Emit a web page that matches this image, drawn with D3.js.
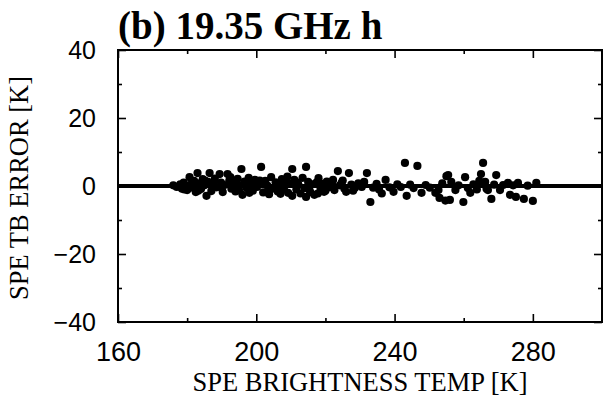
<!DOCTYPE html>
<html>
<head>
<meta charset="utf-8">
<script src="https://cdn.jsdelivr.net/npm/d3@7"></script>
<style>
  body { margin: 0; background: #fff; }
  svg { display: block; }
</style>
</head>
<body>
<div id="chart"></div>
<script>
// data: SPE brightness temperature [K] vs TB error [K]
var speTemp = [
  176, 177, 178, 178.5, 179, 179.5, 180, 180.7, 181, 181.5,
  182, 182.5, 183, 183.5, 184, 184.5, 185, 185.6, 186, 186.5,
  187, 187.5, 188, 188.5, 189.4, 189.8, 190.3, 190.8, 191.7, 192.2,
  192.8, 193.5, 194, 194.6, 195.2, 195.7, 196, 196.6, 197.2, 197.8,
  198.4, 199, 199.6, 200.2, 200.8, 201.4, 202, 202.6, 203.2, 203.7,
  204.3, 205, 205.6, 206.2, 206.8, 207.4, 208, 208.6, 209.2, 209.8,
  210.4, 210.4, 211, 211.6, 212.2, 212.8, 213.4, 214, 214.4, 214.4,
  215, 215.6, 216.2, 216.8, 217.4, 218, 218.6, 219.2, 219.6, 220.4,
  221, 221.9, 222.6, 223.6, 224.2, 224.7, 225.5, 226, 226.8, 227.5,
  228.5, 229.5, 230.5, 231.2, 232, 233, 233.8, 234.8, 235.5, 236.3,
  237.4, 238.5, 239.7, 240.8, 241.8, 243, 243.5, 244.5, 245.5, 246.6,
  247.8, 249, 250.2, 251.8, 252.7, 253, 253.8, 254.7, 255, 255.5,
  256, 256.4, 257.6, 258.5, 259.9, 260.4, 261.2, 261.9, 262.8, 263.8,
  264.5, 265, 265.6, 266.2, 266.6, 267, 268, 268.8, 269.4, 270.5,
  271.4, 272.8, 273.4, 274.3, 275.1, 275.7, 277.4, 278.5, 280, 281,
  179.2, 181.8, 183.2, 185.2, 187.8, 190, 192.5, 195, 198, 201,
  204, 207, 209, 212, 215.3, 217.8, 220, 222.2, 225, 228
];
var tbError = [
  0.2, -0.3, 0.5, -0.8, 1.0, 0.0, -1.2, 2.6, 0.4, -0.5,
  1.5, -1.8, 3.8, 0.8, -0.9, 2.0, 0.2, -2.9, 1.2, 3.8,
  -1.5, 0.6, 2.2, -0.4, 3.5, 1.0, -1.8, 0.3, 3.5, 1.6,
  -0.8, 0.9, -1.6, 2.1, 0.2, 5.0, -2.6, 1.3, -0.6, 2.4,
  0.5, -1.4, 1.8, -0.3, 0.9, 5.6, -1.9, 1.5, 0.1, -2.4,
  2.6, -0.7, 1.1, -1.6, 0.4, 2.0, -0.9, 1.4, -2.0, 0.7,
  5.0, -2.9, 1.8, -1.0, 0.3, -2.2, 2.4, -0.6, 5.6, -3.2,
  1.2, -1.8, 0.5, -2.6, 1.0, 2.3, -0.8, 0.6, -1.7, 1.3,
  -0.4, 0.9, -1.2, 4.4, 0.2, 0.9, -0.8, -1.7, 3.8, 0.4,
  -0.6, 0.8, -0.3, 1.2, 3.8, -4.7, -0.5, 0.6, -1.0, -2.2,
  1.8, -0.4, -1.7, 0.5, -0.3, 6.8, -2.9, 0.4, -0.6, 5.9,
  -2.0, 0.3, -0.5, -2.0, -1.2, -3.5, 0.8, -4.3, 2.9, 3.2,
  -4.1, 1.2, -1.2, 0.2, -4.7, 2.6, -0.6, -2.0, 0.5, -1.0,
  1.5, 3.5, 6.8, 1.2, -0.8, -1.2, -3.8, 0.4, 3.2, -1.2,
  0.3, 0.9, -2.6, 0.2, -3.2, 0.9, -3.8, 0.1, -4.4, 0.9,
  -1.0, 0.9, -1.4, 1.6, 1.4, -0.6, 2.6, -1.2, -2.0, 1.6,
  -1.0, -2.3, 2.8, 1.0, -1.0, -2.2, -1.4, 1.8, 1.6, -1.4
];
var xTickLabels = [160, 200, 240, 280];
var yTickLabels = [-40, -20, 0, 20, 40];
var xMinorTicks = [180, 220, 260];
var yMinorTicks = [-30, -10, 10, 30];

var points = speTemp.map(function(t, i) { return {t: t, e: tbError[i]}; });

var W = 611, H = 400;
var margin = {top: 50, right: 9, bottom: 78, left: 118},
    width = W - margin.left - margin.right,
    height = H - margin.top - margin.bottom;

var svg = d3.select("#chart")
  .append("svg")
    .attr("width", W)
    .attr("height", H)
  .append("g")
    .attr("transform", "translate(" + margin.left + "," + margin.top + ")");

var x = d3.scaleLinear().domain([160, 300]).range([0, width]);
var y = d3.scaleLinear().domain([-40, 40]).range([height, 0]);

// zero line
svg.append("line")
  .attr("x1", 0).attr("x2", width)
  .attr("y1", y(0)).attr("y2", y(0))
  .attr("stroke", "#000").attr("stroke-width", 4);

// points
svg.append("g")
  .selectAll("circle")
  .data(points)
  .enter().append("circle")
    .attr("cx", function(d) { return x(d.t); })
    .attr("cy", function(d) { return y(d.e); })
    .attr("r", 4.1)
    .attr("fill", "#000");

// axes with inward ticks
function styleAxis(g) {
  g.select(".domain").remove();
  g.selectAll(".tick line").attr("stroke", "#000").attr("stroke-width", 1.6);
}
var tickFont = "'Liberation Sans', Arial, sans-serif";

svg.append("g")
  .attr("transform", "translate(0," + height + ")")
  .call(d3.axisBottom(x).tickValues(xTickLabels).tickSizeInner(-8).tickPadding(20))
  .call(styleAxis)
  .call(function(g) {
    g.selectAll("text").attr("font-family", tickFont).attr("font-size", 27).attr("fill", "#000");
  });
svg.append("g")
  .attr("transform", "translate(0," + height + ")")
  .call(d3.axisBottom(x).tickValues(xMinorTicks).tickSizeInner(-4).tickFormat(""))
  .call(styleAxis);
svg.append("g")
  .call(d3.axisTop(x).tickValues(xTickLabels).tickSizeInner(-8).tickFormat(""))
  .call(styleAxis);
svg.append("g")
  .call(d3.axisTop(x).tickValues(xMinorTicks).tickSizeInner(-4).tickFormat(""))
  .call(styleAxis);

svg.append("g")
  .call(d3.axisLeft(y).tickValues(yTickLabels).tickSizeInner(-8).tickPadding(22)
    .tickFormat(function(d) { return d < 0 ? "\u2212" + Math.abs(d) : d; }))
  .call(styleAxis)
  .call(function(g) {
    g.selectAll("text").attr("font-family", tickFont).attr("font-size", 25).attr("fill", "#000");
  });
svg.append("g")
  .call(d3.axisLeft(y).tickValues(yMinorTicks).tickSizeInner(-4).tickFormat(""))
  .call(styleAxis);
svg.append("g")
  .attr("transform", "translate(" + width + ",0)")
  .call(d3.axisRight(y).tickValues(yTickLabels).tickSizeInner(-8).tickFormat(""))
  .call(styleAxis);
svg.append("g")
  .attr("transform", "translate(" + width + ",0)")
  .call(d3.axisRight(y).tickValues(yMinorTicks).tickSizeInner(-4).tickFormat(""))
  .call(styleAxis);

// frame
svg.append("rect")
  .attr("width", width).attr("height", height)
  .attr("fill", "none").attr("stroke", "#000").attr("stroke-width", 2);

// titles
var serif = "'Liberation Serif', 'Times New Roman', serif";
svg.append("text")
  .attr("x", 0).attr("y", -11)
  .attr("font-family", serif).attr("font-weight", "bold").attr("font-size", 39)
  .text("(b) 19.35 GHz h");

svg.append("text")
  .attr("x", width / 2).attr("y", height + 69)
  .attr("text-anchor", "middle")
  .attr("font-family", serif).attr("font-size", 26.5)
  .text("SPE BRIGHTNESS TEMP [K]");

svg.append("text")
  .attr("transform", "translate(" + (-90) + "," + (height / 2 + 2) + ") rotate(-90)")
  .attr("text-anchor", "middle")
  .attr("font-family", serif).attr("font-size", 26.5)
  .text("SPE TB ERROR [K]");
</script>
</body>
</html>
